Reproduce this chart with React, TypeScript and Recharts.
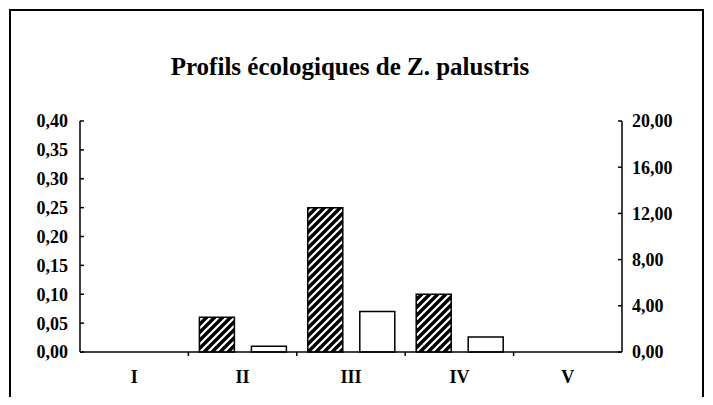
import React from "react"
import { Bar, BarChart, XAxis, YAxis } from "recharts"

// Classes (categories) and the two profiles
const classes = ["I", "II", "III", "IV", "V"]
const frequence = [0, 0.06, 0.25, 0.1, 0] // hatched bars, left axis
const occurrence = [0, 0.5, 3.5, 1.3, 0] // white bars, right axis
const leftTicks = [0, 0.05, 0.1, 0.15, 0.2, 0.25, 0.3, 0.35, 0.4]
const rightTicks = [0, 4, 8, 12, 16, 20]

const data = classes.map((c, i) => ({
  classe: c,
  frequence: frequence[i],
  occurrence: occurrence[i],
}))

const W = 713
const H = 405
const PLOT_LEFT = 80
const PLOT_RIGHT = 622
const PLOT_TOP = 121
const PLOT_BOTTOM = 352
const BAND = (PLOT_RIGHT - PLOT_LEFT) / classes.length

const font = "'Liberation Serif', 'Times New Roman', serif"
const tickStyle = { fill: "#000", fontFamily: font, fontWeight: 700, fontSize: 18 }

const comma = (v: number) => v.toFixed(2).replace(".", ",")

function CategoryTick(props: any) {
  const { x, payload, index } = props
  return (
    <g>
      {index > 0 && (
        <line x1={x - BAND / 2} x2={x - BAND / 2} y1={PLOT_BOTTOM} y2={PLOT_BOTTOM + 4} stroke="#000" strokeWidth={1.5} />
      )}
      <text x={x} y={PLOT_BOTTOM + 31} textAnchor="middle" {...tickStyle}>
        {payload.value}
      </text>
    </g>
  )
}

export default function App() {
  return (
    <div style={{ margin: -8, width: W, height: H, position: "relative", background: "#fff", overflow: "hidden" }}>
      <BarChart
        width={W}
        height={H}
        data={data}
        margin={{ top: PLOT_TOP, right: 0, bottom: 0, left: 0 }}
        barSize={35}
        barGap={17}
      >
        <defs>
          <pattern id="hatch" width={8} height={8} patternUnits="userSpaceOnUse">
            <rect width={8} height={8} fill="#000" />
            <path d="M-2,2 l4,-4 M0,8 l8,-8 M6,10 l4,-4" stroke="#fff" strokeWidth={2.2} />
          </pattern>
        </defs>
        <text x={350} y={75} textAnchor="middle" fontFamily={font} fontWeight={700} fontSize={25} fill="#000">
          Profils écologiques de Z. palustris
        </text>
        <XAxis
          dataKey="classe"
          height={H - PLOT_BOTTOM}
          tickLine={false}
          axisLine={{ stroke: "#000", strokeWidth: 1.5 }}
          tick={<CategoryTick />}
          interval={0}
        />
        <YAxis
          yAxisId="left"
          orientation="left"
          width={PLOT_LEFT}
          domain={[0, 0.4]}
          ticks={leftTicks}
          tickFormatter={comma}
          tickSize={-4}
          tickMargin={16}
          interval={0}
          axisLine={{ stroke: "#000", strokeWidth: 1.5 }}
          tickLine={{ stroke: "#000", strokeWidth: 1.5 }}
          tick={tickStyle}
        />
        <YAxis
          yAxisId="right"
          orientation="right"
          width={W - PLOT_RIGHT}
          domain={[0, 20]}
          ticks={rightTicks}
          tickFormatter={comma}
          tickSize={-4}
          tickMargin={14}
          interval={0}
          axisLine={{ stroke: "#000", strokeWidth: 1.5 }}
          tickLine={{ stroke: "#000", strokeWidth: 1.5 }}
          tick={tickStyle}
        />
        <Bar
          yAxisId="left"
          dataKey="frequence"
          fill="url(#hatch)"
          stroke="#000"
          strokeWidth={1.5}
          isAnimationActive={false}
        />
        <Bar
          yAxisId="right"
          dataKey="occurrence"
          fill="#fff"
          stroke="#000"
          strokeWidth={1.5}
          isAnimationActive={false}
        />
      </BarChart>
      {/* outer frame of the chart */}
      <div
        style={{
          position: "absolute",
          left: 9,
          top: 9,
          width: 695,
          height: 420,
          border: "2px solid #000",
          zIndex: 10,
          pointerEvents: "none",
          boxSizing: "border-box",
        }}
      />
    </div>
  )
}
